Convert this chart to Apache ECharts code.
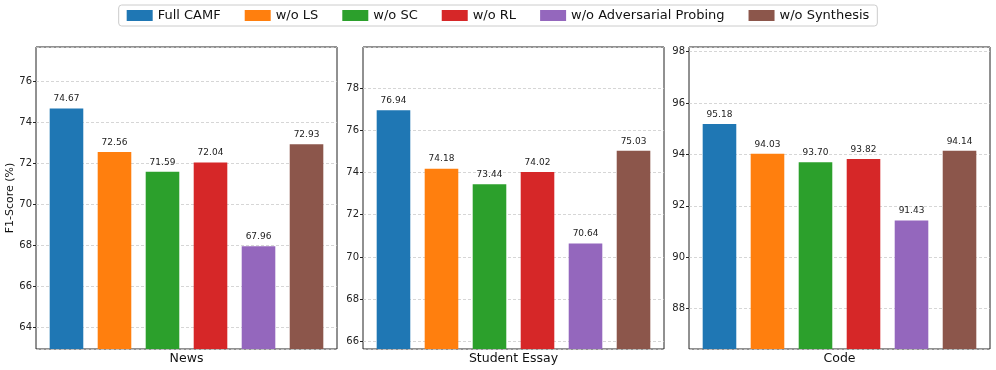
<!DOCTYPE html>
<html>
<head>
<meta charset="utf-8">
<script src="https://cdn.jsdelivr.net/npm/echarts@6/dist/echarts.min.js"></script>
<style>
  html, body { margin: 0; padding: 0; background: #fff; }
  #chart { width: 996px; height: 370px; }
</style>
</head>
<body>
<div id="chart"></div>
<script>
  // variants shown in each panel (legend order)
  const variants = ['Full CAMF', 'w/o LS', 'w/o SC', 'w/o RL', 'w/o Adversarial Probing', 'w/o Synthesis'];
  const colors = ['#1f77b4', '#ff7f0e', '#2ca02c', '#d62728', '#9467bd', '#8c564b'];

  // panel titles
  const datasets = ['News', 'Student Essay', 'Code'];

  // F1 scores per dataset
  const newsScores = [74.67, 72.56, 71.59, 72.04, 67.96, 72.93];
  const essayScores = [76.94, 74.18, 73.44, 74.02, 70.64, 75.03];
  const codeScores = [95.18, 94.03, 93.70, 93.82, 91.43, 94.14];
  const allScores = [newsScores, essayScores, codeScores];

  const font = 'DejaVu Sans';
  const gridLefts = [36, 363, 689];
  const gridWidth = 301;

  const chart = echarts.init(document.getElementById('chart'));

  const grids = [], xAxes = [], yAxes = [], series = [];

  allScores.forEach((scores, p) => {
    const lo = Math.min(...scores) - 5;
    const hi = Math.max(...scores) + 3;

    grids.push({
      left: gridLefts[p], top: 47, width: gridWidth, height: 302,
      outerBoundsMode: 'none', containLabel: false,
      show: true, borderColor: '#222', borderWidth: 1, backgroundColor: 'transparent'
    });

    xAxes.push({
      gridIndex: p,
      type: 'value',
      min: -0.635, max: 5.635,
      axisLine: { show: false, onZero: false }, axisTick: { show: false },
      axisLabel: { show: false }, splitLine: { show: false },
      name: datasets[p], nameLocation: 'middle', nameGap: 3,
      nameTextStyle: { fontFamily: font, fontSize: 12.5, color: '#111' }
    });

    yAxes.push({
      gridIndex: p,
      type: 'value',
      min: lo, max: hi,
      splitNumber: 7, minInterval: 2, maxInterval: 2,
      axisLine: { show: false, onZero: false },
      axisTick: { show: true, length: 3, lineStyle: { color: '#222' } },
      axisLabel: {
        fontFamily: font, fontSize: 10, color: '#222', margin: 4,
        showMinLabel: false, showMaxLabel: false,
        formatter: v => (Math.abs(v - Math.round(v)) < 1e-6 ? String(Math.round(v)) : '')
      },
      splitLine: { show: true, lineStyle: { color: '#ccc', type: [3, 2], width: 0.8 } },
      name: p === 0 ? 'F1-Score (%)' : '',
      nameLocation: 'middle', nameGap: 20, nameRotate: 90,
      nameTextStyle: { fontFamily: font, fontSize: 11, color: '#111' }
    });

    variants.forEach((v, i) => {
      series.push({
        name: v,
        type: 'bar',
        xAxisIndex: p, yAxisIndex: p,
        barWidth: 33.6, barGap: '-100%',
        data: [[i, scores[i]]],
        itemStyle: { color: colors[i] },
        label: {
          show: true, position: 'top', distance: 5,
          fontFamily: font, fontSize: 9, color: '#222',
          formatter: d => d.value[1].toFixed(2)
        },
        animation: false
      });
    });
  });

  chart.setOption({
    animation: false,
    color: colors,
    legend: {
      data: variants,
      top: 5, left: 'center',
      itemWidth: 26, itemHeight: 11, itemGap: 24,
      borderColor: '#ccc', borderWidth: 1, borderRadius: 3,
      padding: [4, 8],
      textStyle: { fontFamily: font, fontSize: 13, color: '#111' },
      icon: 'rect'
    },
    grid: grids,
    xAxis: xAxes,
    yAxis: yAxes,
    series: series
  });
</script>
</body>
</html>
